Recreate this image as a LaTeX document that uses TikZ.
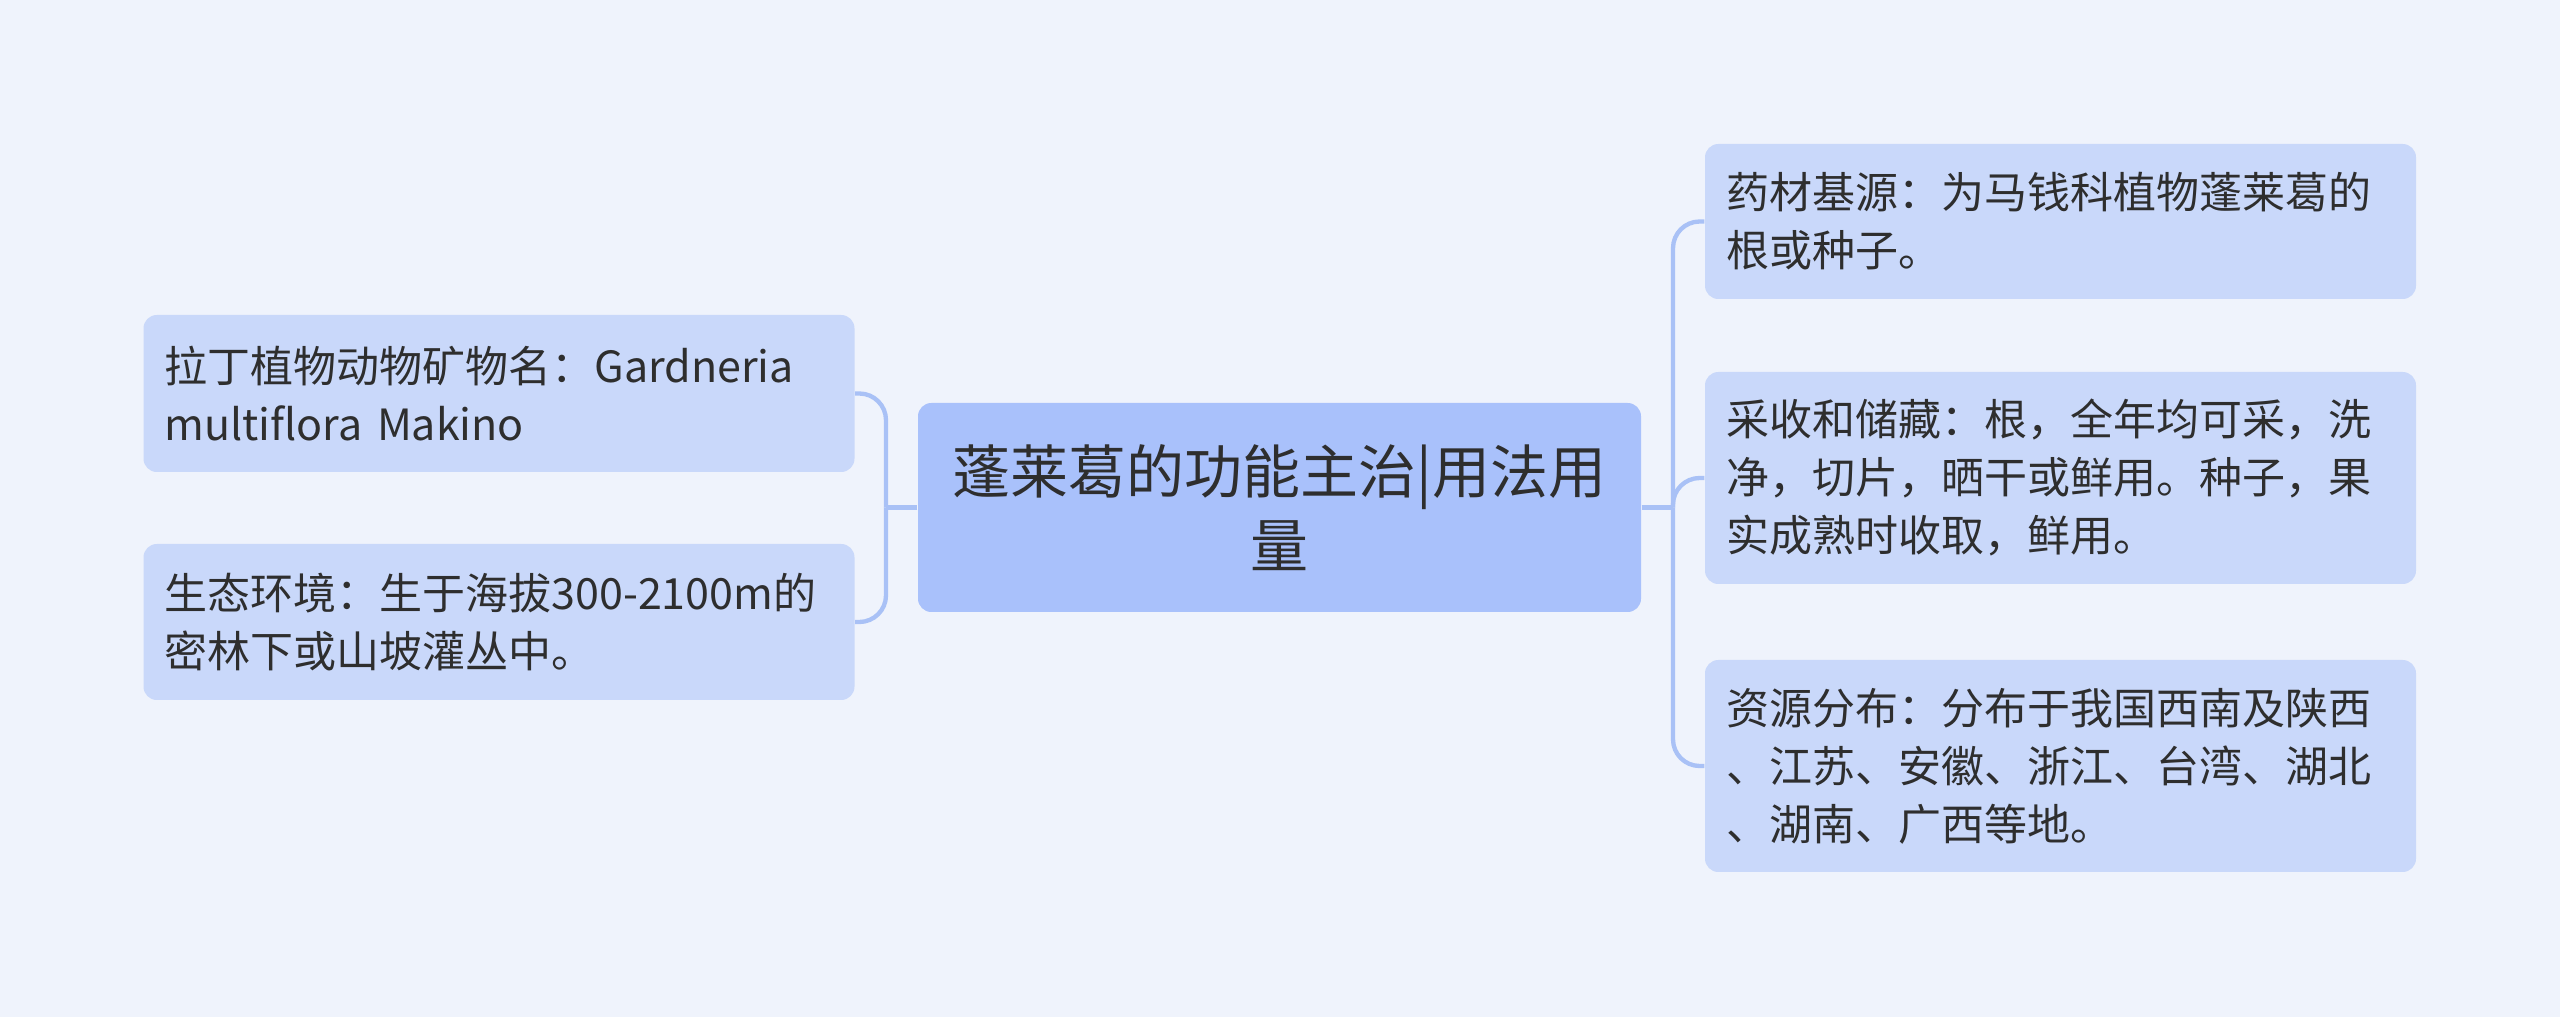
\documentclass[tikz,border=0pt]{standalone}
\usepackage{fontspec}
\setmainfont{Noto Sans CJK SC}
\definecolor{bg}{HTML}{EFF3FC}
\definecolor{childfill}{HTML}{C9D8FA}
\definecolor{rootfill}{HTML}{A9C1FB}
\definecolor{linecol}{HTML}{A9C1F6}
\definecolor{txt}{HTML}{2E2E2E}
\begin{document}
\begin{tikzpicture}[x=0.3pt,y=-0.3pt,
  rootbox/.style={fill=rootfill, rounded corners=4pt, text=txt, align=center,
    minimum width=216.9pt, minimum height=62.7pt, inner sep=0pt,
    font=\fontsize{17.4pt}{22.2pt}\selectfont},
  childbox/.style={fill=childfill, rounded corners=4pt, text=txt, align=left,
    text width=200.7pt, inner xsep=6.3pt, inner ysep=0pt,
    font=\fontsize{12.9pt}{17.4pt}\selectfont},
  conn/.style={draw=linecol, line width=1.3pt, rounded corners=8pt}]
\fill[bg] (0,0) rectangle (2560,1017);
\useasboundingbox (0,0) rectangle (2560,1017);
\node[rootbox] (c) at (1279.5,507.5) {蓬莱葛的功能主治|用法用\\量};
\node[childbox, minimum height=46.5pt] (r1) at (2060.5,221.5) {药材基源：为马钱科植物蓬莱葛的\\根或种子。};
\node[childbox, minimum height=63.6pt] (r2) at (2060.5,478) {采收和储藏：根，全年均可采，洗\\净，切片，晒干或鲜用。种子，果\\实成熟时收取，鲜用。};
\node[childbox, minimum height=63.6pt] (r3) at (2060.5,766) {资源分布：分布于我国西南及陕西\\、江苏、安徽、浙江、台湾、湖北\\、湖南、广西等地。};
\node[childbox, minimum height=47.1pt] (l1) at (499,393.5) {拉丁植物动物矿物名：Gardneria\\multiflora Makino};
\node[childbox, minimum height=46.8pt] (l2) at (499,622) {生态环境：生于海拔300-2100m的\\密林下或山坡灌丛中。};
\coordinate (rt) at (1673,507.5);
\coordinate (lt) at (886,507.5);
\draw[conn] (c.east) -- (rt);
\draw[conn] (rt) |- (r1.west);
\draw[conn] (rt) |- (r2.west);
\draw[conn] (rt) |- (r3.west);
\draw[conn] (c.west) -- (lt);
\draw[conn] (lt) |- (l1.east);
\draw[conn] (lt) |- (l2.east);
\end{tikzpicture}
\end{document}
